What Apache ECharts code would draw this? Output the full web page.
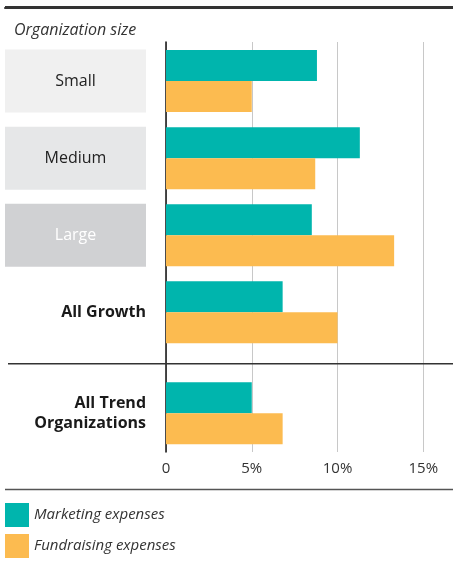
<!DOCTYPE html>
<html>
<head>
<meta charset="utf-8">
<script src="https://cdn.jsdelivr.net/npm/echarts@6/dist/echarts.min.js"></script>
<style>
html,body{margin:0;padding:0;background:#fff;}
#wrap{position:relative;width:453px;height:563px;}
#chart{width:453px;height:563px;}
#wrap::before{content:"";position:absolute;left:5px;top:6px;width:448px;height:2px;background:#333;z-index:5;}
</style>
</head>
<body>
<div id="wrap"><div id="chart"></div></div>
<script>
// ---- data ----
const categories = ['Small', 'Medium', 'Large', 'All Growth', 'All Trend Organizations'];
const marketing = [8.8, 11.3, 8.5, 6.8, 5.0];
const fundraising = [5.0, 8.7, 13.3, 10.0, 6.8];
const seriesNames = ['Marketing expenses', 'Fundraising expenses'];
const xTicks = [0, 5, 10, 15];
const titleText = 'Organization size';

// ---- style ----
const FONT = '"Open Sans", sans-serif';
const TEAL = '#00b5ad';
const ORANGE = '#fcbb50';
const boxStyles = [
  { bg: '#f0f0f0', color: '#222' },
  { bg: '#e6e7e8', color: '#222' },
  { bg: '#d0d1d3', color: '#ffffff' }
];

const topCats = categories.slice(0, 4);
const botCats = categories.slice(4);

const chart = echarts.init(document.getElementById('chart'), null, { renderer: 'canvas' });

const LEFT = 166, RIGHT = 453 - 423.3;
const xMin = xTicks[0], xMax = xTicks[xTicks.length - 1], xInt = xTicks[1] - xTicks[0];

const rich = {
  b0: { backgroundColor: boxStyles[0].bg, color: boxStyles[0].color, width: 141, height: 63, align: 'center', fontSize: 16, fontFamily: FONT },
  b1: { backgroundColor: boxStyles[1].bg, color: boxStyles[1].color, width: 141, height: 63, align: 'center', fontSize: 16, fontFamily: FONT },
  b2: { backgroundColor: boxStyles[2].bg, color: boxStyles[2].color, width: 141, height: 63, align: 'center', fontSize: 16, fontFamily: FONT },
  bold: { fontWeight: 'bold', color: '#1a1a1a', fontSize: 16, fontFamily: FONT, lineHeight: 20, align: 'right' }
};

function hiddenX(idx) {
  return { type: 'value', gridIndex: idx, min: xMin, max: xMax, interval: xInt, show: false };
}

const option = {
  animation: false,
  textStyle: { fontFamily: FONT },
  title: {
    text: titleText, left: 14, top: 22, padding: 0,
    textStyle: { fontStyle: 'italic', fontWeight: 'normal', fontSize: 16, color: '#333', fontFamily: FONT }
  },
  legend: {
    orient: 'vertical', left: 5, top: 503, padding: 0,
    itemWidth: 24, itemHeight: 24, itemGap: 7,
    icon: 'rect',
    textStyle: { fontStyle: 'italic', fontSize: 15, color: '#333', fontFamily: FONT },
    data: seriesNames
  },
  grid: [
    { left: LEFT, right: RIGHT, top: 42, height: 410 },
    { left: LEFT, right: RIGHT, top: 42.5, height: 308.4 },
    { left: LEFT, right: RIGHT, top: 374.7, height: 77.1 },
    { left: 5, right: 0, top: 7, height: 1 }
  ],
  xAxis: [
    {
      type: 'value', gridIndex: 0, min: xMin, max: xMax, interval: xInt,
      axisLine: { show: false }, axisTick: { show: false },
      splitLine: { show: true, lineStyle: { color: '#c8c8c8', width: 1 } },
      axisLabel: {
        margin: 9, fontSize: 15, color: '#333', fontFamily: FONT,
        formatter: v => (v === 0 ? '0' : v + '%')
      }
    },
    hiddenX(1),
    hiddenX(2),
    {
      type: 'value', gridIndex: 3, position: 'top', min: 0, max: 1,
      axisLine: { show: true, lineStyle: { color: '#333', width: 2 } },
      axisTick: { show: false }, axisLabel: { show: false }, splitLine: { show: false }
    }
  ],
  yAxis: [
    {
      type: 'value', gridIndex: 0, min: 0, max: 1,
      axisLine: { show: true, lineStyle: { color: '#111', width: 1.5 } },
      axisTick: { show: false }, axisLabel: { show: false }, splitLine: { show: false }
    },
    {
      type: 'category', gridIndex: 1, data: topCats, inverse: true,
      axisLine: { show: false }, axisTick: { show: false },
      axisLabel: {
        margin: 20,
        formatter: (v, i) => (i < 3 ? '{b' + i + '|' + v + '}' : '{bold|' + v + '}'),
        rich: rich
      }
    },
    {
      type: 'category', gridIndex: 2, data: botCats, inverse: true,
      axisLine: { show: false }, axisTick: { show: false },
      axisLabel: {
        margin: 20,
        formatter: v => '{bold|' + v.replace(' Organizations', '}\n{bold|Organizations') + '}',
        rich: rich
      }
    },
    { type: 'value', gridIndex: 3, show: false }
  ],
  series: [
    { name: seriesNames[0], type: 'bar', xAxisIndex: 1, yAxisIndex: 1, data: marketing.slice(0, 4), barWidth: 31, barGap: '0%', itemStyle: { color: TEAL } },
    { name: seriesNames[1], type: 'bar', xAxisIndex: 1, yAxisIndex: 1, data: fundraising.slice(0, 4), barWidth: 31, barGap: '0%', itemStyle: { color: ORANGE } },
    { name: seriesNames[0], type: 'bar', xAxisIndex: 2, yAxisIndex: 2, data: marketing.slice(4), barWidth: 31, barGap: '0%', itemStyle: { color: TEAL } },
    { name: seriesNames[1], type: 'bar', xAxisIndex: 2, yAxisIndex: 2, data: fundraising.slice(4), barWidth: 31, barGap: '0%', itemStyle: { color: ORANGE } }
  ],
  graphic: [
    { type: 'line', shape: { x1: 8, y1: 363.7, x2: 453, y2: 363.7 }, style: { stroke: '#333', lineWidth: 1.5 }, z: 10 },
    { type: 'line', shape: { x1: 5, y1: 489.5, x2: 453, y2: 489.5 }, style: { stroke: '#555', lineWidth: 1.5 }, z: 10 }
  ]
};

chart.setOption(option);
</script>
</body>
</html>
